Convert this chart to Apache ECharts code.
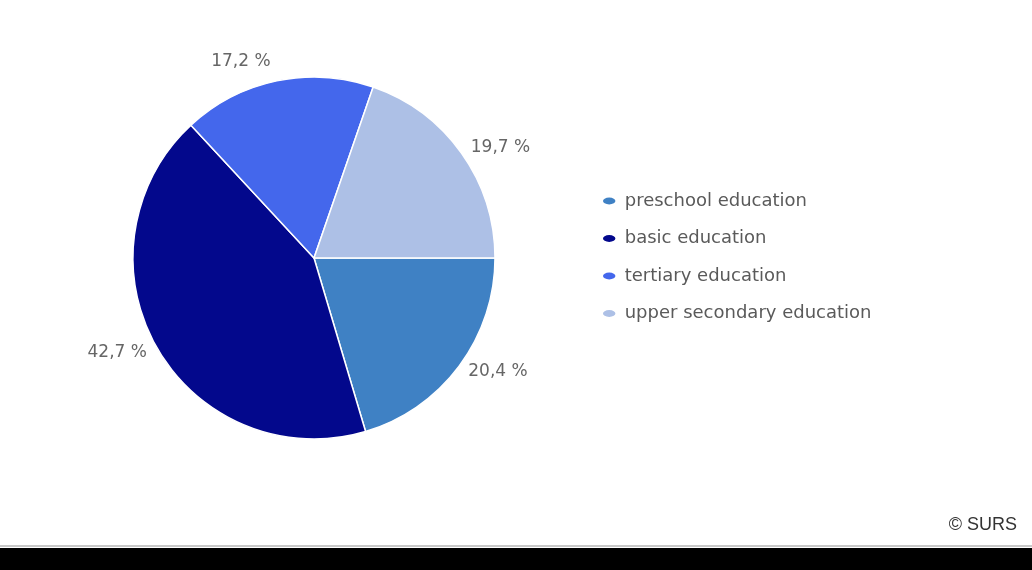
<!DOCTYPE html>
<html>
<head>
<meta charset="utf-8">
<script src="https://cdn.jsdelivr.net/npm/echarts@6/dist/echarts.min.js"></script>
<style>
html,body{margin:0;padding:0;background:#fff;}
#c{width:1032px;height:570px;}
</style>
</head>
<body>
<div id="c"></div>
<script>
var categories = ['preschool education', 'basic education', 'tertiary education', 'upper secondary education'];
var values = [20.4, 42.7, 17.2, 19.7];
var colors = ['#3f81c4', '#03088c', '#4467ec', '#adc0e6'];

var chart = echarts.init(document.getElementById('c'));
var data = categories.map(function (name, i) {
  var item = { name: name, value: values[i], itemStyle: { color: colors[i] } };
  if (i === 2) { item.labelLine = { show: false, length: 20, length2: 0 }; }
  return item;
});
chart.setOption({
  animation: false,
  backgroundColor: '#ffffff',
  title: {
    text: '\u00a9 SURS',
    right: 10,
    top: 511,
    textStyle: { fontFamily: 'Liberation Sans, Arial', fontSize: 18, fontWeight: 'normal', color: '#333' }
  },
  graphic: [
    { type: 'rect', left: 0, top: 548, shape: { width: 1032, height: 22 }, style: { fill: '#000' }, silent: true },
    { type: 'rect', left: 0, top: 545, shape: { width: 1032, height: 2 }, style: { fill: '#c8c8c8' }, silent: true }
  ],
  legend: {
    orient: 'vertical',
    left: 596,
    top: 186,
    icon: 'path://M8,0C12.4,0 16,2.2 16,5C16,7.8 12.4,10 8,10C3.6,10 0,7.8 0,5C0,2.2 3.6,0 8,0Z',
    itemWidth: 15,
    itemHeight: 9,
    itemGap: 17.5,
    data: categories,
    textStyle: { fontFamily: 'DejaVu Sans', fontSize: 18, lineHeight: 20, color: '#5a5a5a', padding: [0, 0, 0, 3] }
  },
  series: [{
    type: 'pie',
    center: [314, 258],
    radius: 181,
    startAngle: 0,
    clockwise: true,
    avoidLabelOverlap: false,
    data: data,
    itemStyle: { borderColor: '#ffffff', borderWidth: 1.5 },
    label: {
      show: true,
      position: 'outside',
      fontFamily: 'DejaVu Sans',
      fontSize: 17,
      color: '#666',
      distanceToLabelLine: 2,
      formatter: function (p) { return p.value.toFixed(1).replace('.', ',') + ' %'; }
    },
    labelLine: { show: false, length: 9, length2: 0 },
    emphasis: { disabled: true }
  }]
});
</script>
</body>
</html>
